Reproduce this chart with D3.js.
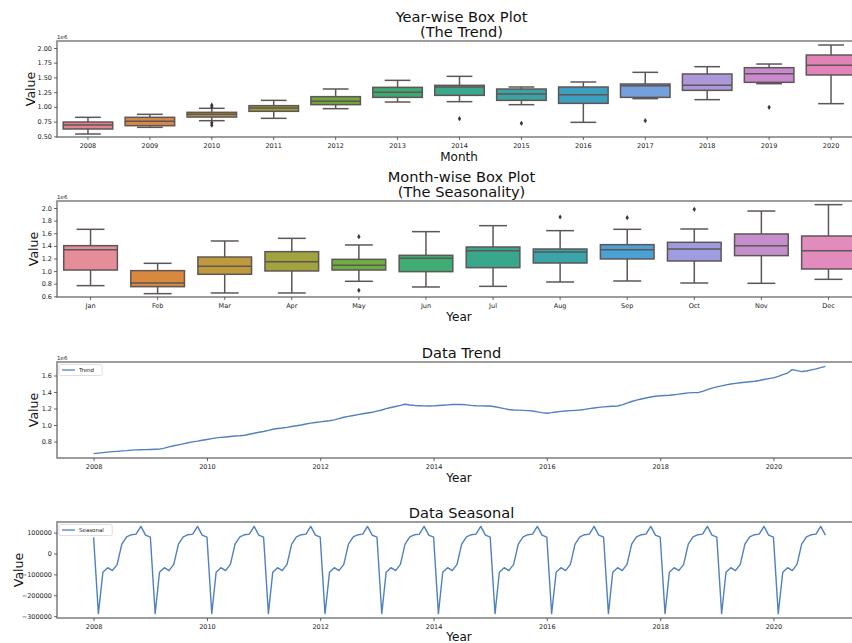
<!DOCTYPE html>
<html>
<head>
<meta charset="utf-8">
<script src="https://cdn.jsdelivr.net/npm/d3@7"></script>
<style>
  html, body { margin: 0; padding: 0; background: #fff; }
  svg { display: block; font-family: "DejaVu Sans", sans-serif; }
</style>
</head>
<body>
<svg id="chart" width="852" height="643"></svg>
<script>
// ---- Year-wise box statistics (values in millions) ----
const years = ["2008","2009","2010","2011","2012","2013","2014","2015","2016","2017","2018","2019","2020"];
const yearLow    = [0.540,0.653,0.766,0.806,0.970,1.083,1.089,1.038,0.738,1.140,1.123,1.394,1.055];
const yearQ1     = [0.625,0.681,0.828,0.925,1.038,1.162,1.196,1.111,1.060,1.162,1.281,1.417,1.542];
const yearMedian = [0.693,0.755,0.874,0.981,1.094,1.247,1.338,1.219,1.208,1.360,1.366,1.564,1.706];
const yearQ3     = [0.743,0.823,0.908,1.021,1.174,1.332,1.366,1.304,1.338,1.389,1.559,1.666,1.881];
const yearHigh   = [0.823,0.874,0.976,1.111,1.304,1.451,1.519,1.338,1.423,1.587,1.683,1.728,2.051];
const yearOutliers = [[],[],[1.03,1.00,0.73,0.69],[],[],[],[0.800],[0.721],[],[0.766],[],[0.993],[]];
const yearColors = ["#e3838f","#d6884a","#b3933d","#9c9d3c","#74a83e","#3eaa70","#3ba78c","#3ba4a3","#3d9fbd","#74a0dc","#ab97da","#ca89cc","#e283b8"];
const yearTicks = [0.50,0.75,1.00,1.25,1.50,1.75,2.00];

// ---- Month-wise box statistics (values in millions) ----
const months = ["Jan","Feb","Mar","Apr","May","Jun","Jul","Aug","Sep","Oct","Nov","Dec"];
const monthLow    = [0.769,0.642,0.653,0.653,0.838,0.748,0.758,0.827,0.843,0.811,0.806,0.869];
const monthQ1     = [1.017,0.753,0.949,1.002,1.017,0.991,1.054,1.128,1.192,1.160,1.245,1.033];
const monthMedian = [1.340,0.811,1.075,1.149,1.091,1.202,1.324,1.303,1.340,1.350,1.403,1.324];
const monthQ3     = [1.403,1.007,1.223,1.308,1.186,1.250,1.382,1.350,1.419,1.456,1.588,1.556];
const monthHigh   = [1.662,1.123,1.477,1.519,1.414,1.625,1.720,1.641,1.662,1.667,1.952,2.053];
const monthOutliers = [[],[],[],[],[1.546,0.695],[],[],[1.857],[1.847],[1.979],[],[]];
const monthColors = ["#e58d98","#d8893f","#bf9a3d","#a2a23f","#6eae40","#3eae74","#38a78c","#3aa5a8","#4aa2d4","#a09ce0","#c58ecc","#e18cbd"];
const monthTicks = [0.6,0.8,1.0,1.2,1.4,1.6,1.8,2.0];

// ---- Monthly trend component, Jan 2008 .. Dec 2020 (millions) ----
const trend = [
  0.653,0.659,0.665,0.671,0.677,0.681,0.686,0.690,0.696,0.699,0.700,0.702, // 2008
  0.704,0.706,0.708,0.720,0.735,0.748,0.760,0.772,0.785,0.796,0.805,0.815, // 2009
  0.825,0.835,0.844,0.850,0.855,0.860,0.866,0.870,0.876,0.888,0.900,0.912, // 2010
  0.922,0.935,0.948,0.958,0.963,0.972,0.982,0.991,1.000,1.012,1.023,1.030, // 2011
  1.038,1.045,1.051,1.062,1.078,1.094,1.104,1.115,1.126,1.136,1.146,1.154, // 2012
  1.168,1.182,1.198,1.212,1.225,1.238,1.252,1.242,1.236,1.234,1.232,1.230, // 2013
  1.232,1.236,1.240,1.244,1.248,1.250,1.248,1.244,1.238,1.234,1.232,1.230, // 2014
  1.230,1.222,1.210,1.198,1.188,1.182,1.180,1.178,1.175,1.170,1.160,1.150, // 2015
  1.143,1.150,1.158,1.165,1.170,1.174,1.178,1.182,1.190,1.198,1.206,1.214, // 2016
  1.220,1.225,1.228,1.230,1.245,1.265,1.285,1.301,1.315,1.328,1.340,1.348, // 2017
  1.354,1.358,1.361,1.366,1.374,1.382,1.390,1.393,1.393,1.408,1.428,1.448, // 2018
  1.462,1.475,1.487,1.497,1.505,1.512,1.518,1.524,1.530,1.540,1.552,1.563, // 2019
  1.572,1.590,1.610,1.630,1.672,1.660,1.648,1.655,1.668,1.680,1.695,1.711  // 2020
];
const trendTicks = [0.8,1.0,1.2,1.4,1.6];

// ---- Monthly seasonal component, Jan 2008 .. Dec 2020 ----
const seasonal = [
  78000,-288000,-90000,-68000,-82000,-52000,45000,80000,90000,93000,130000,88000, // 2008
  78000,-288000,-90000,-68000,-82000,-52000,45000,80000,90000,93000,130000,88000, // 2009
  78000,-288000,-90000,-68000,-82000,-52000,45000,80000,90000,93000,130000,88000, // 2010
  78000,-288000,-90000,-68000,-82000,-52000,45000,80000,90000,93000,130000,88000, // 2011
  78000,-288000,-90000,-68000,-82000,-52000,45000,80000,90000,93000,130000,88000, // 2012
  78000,-288000,-90000,-68000,-82000,-52000,45000,80000,90000,93000,130000,88000, // 2013
  78000,-288000,-90000,-68000,-82000,-52000,45000,80000,90000,93000,130000,88000, // 2014
  78000,-288000,-90000,-68000,-82000,-52000,45000,80000,90000,93000,130000,88000, // 2015
  78000,-288000,-90000,-68000,-82000,-52000,45000,80000,90000,93000,130000,88000, // 2016
  78000,-288000,-90000,-68000,-82000,-52000,45000,80000,90000,93000,130000,88000, // 2017
  78000,-288000,-90000,-68000,-82000,-52000,45000,80000,90000,93000,130000,88000, // 2018
  78000,-288000,-90000,-68000,-82000,-52000,45000,80000,90000,93000,130000,88000, // 2019
  78000,-288000,-90000,-68000,-82000,-52000,45000,80000,90000,93000,130000,88000  // 2020
];
const seasonalTicks = [-300000,-200000,-100000,0,100000];

// ---- Layout ----
const svg = d3.select("#chart");
const L = 57, R = 862;
const frameColor = "#858585";
const boxLine = "#5e5656";
const lineColor = "#4f80c0";
const tickFont = 6.5;

function frame(top, bottom) {
  svg.append("rect")
    .attr("x", L).attr("y", top)
    .attr("width", R - L).attr("height", bottom - top)
    .attr("fill", "none").attr("stroke", frameColor).attr("stroke-width", 1.6);
}

function styleAxis(g) {
  g.select(".domain").remove();
  g.selectAll(".tick line").attr("stroke", "#444").attr("stroke-width", 0.8);
  g.selectAll(".tick text").attr("fill", "#222").attr("font-size", tickFont)
    .attr("font-family", "DejaVu Sans, sans-serif");
}

function titleLines(lines, ys) {
  lines.forEach((t, i) => {
    svg.append("text").attr("x", (L + R) / 2 + 2).attr("y", ys[i])
      .attr("text-anchor", "middle").attr("font-size", 14.6).attr("fill", "#111").text(t);
  });
}

function xLabel(t, y) {
  svg.append("text").attr("x", 459).attr("y", y).attr("text-anchor", "middle")
    .attr("font-size", 12).attr("fill", "#111").text(t);
}

function yLabel(x, cy) {
  svg.append("text").attr("transform", `translate(${x},${cy}) rotate(-90)`)
    .attr("text-anchor", "middle").attr("font-size", 12.5).attr("fill", "#111").text("Value");
}

function offsetLabel(top) {
  svg.append("text").attr("x", L).attr("y", top - 2.5)
    .attr("font-size", 5.5).attr("fill", "#222").text("1e6");
}

function boxPanel(o) {
  const x = d3.scaleBand().domain(o.cats).range([L, R]).padding(0);
  const y = d3.scaleLinear().domain(o.domain).range([o.bottom, o.top]);
  const bw = x.bandwidth() * 0.8;
  const cw = bw * 0.52;
  const g = svg.append("g");
  o.cats.forEach((c, i) => {
    const cx = x(c) + x.bandwidth() / 2;
    // whiskers
    g.append("line").attr("x1", cx).attr("x2", cx).attr("y1", y(o.lo[i])).attr("y2", y(o.q1[i]))
      .attr("stroke", boxLine).attr("stroke-width", 1.5);
    g.append("line").attr("x1", cx).attr("x2", cx).attr("y1", y(o.hi[i])).attr("y2", y(o.q3[i]))
      .attr("stroke", boxLine).attr("stroke-width", 1.5);
    // caps
    [o.lo[i], o.hi[i]].forEach(v => {
      g.append("line").attr("x1", cx - cw / 2).attr("x2", cx + cw / 2).attr("y1", y(v)).attr("y2", y(v))
        .attr("stroke", boxLine).attr("stroke-width", 1.5);
    });
    // box
    g.append("rect").attr("x", cx - bw / 2).attr("y", y(o.q3[i]))
      .attr("width", bw).attr("height", y(o.q1[i]) - y(o.q3[i]))
      .attr("fill", o.colors[i]).attr("stroke", boxLine).attr("stroke-width", 1.5);
    // median
    g.append("line").attr("x1", cx - bw / 2).attr("x2", cx + bw / 2)
      .attr("y1", y(o.med[i])).attr("y2", y(o.med[i]))
      .attr("stroke", boxLine).attr("stroke-width", 1.5);
    // outliers (thin diamonds)
    o.out[i].forEach(v => {
      const py = y(v);
      g.append("path").attr("d", `M${cx},${py - 2.6}L${cx + 1.7},${py}L${cx},${py + 2.6}L${cx - 1.7},${py}Z`)
        .attr("fill", "#3a3a3a");
    });
  });
  frame(o.top, o.bottom);
  svg.append("g").attr("transform", `translate(${L},0)`)
    .call(d3.axisLeft(y).tickValues(o.ticks).tickFormat(o.fmt).tickSize(3).tickPadding(2))
    .call(styleAxis);
  svg.append("g").attr("transform", `translate(0,${o.bottom})`)
    .call(d3.axisBottom(x).tickSize(3).tickPadding(3))
    .call(styleAxis);
  offsetLabel(o.top);
}

function linePanel(o) {
  const t0 = new Date(2008, 0, 1), t1 = new Date(2020, 11, 1);
  const pad = (t1 - t0) * 0.05;
  const x = d3.scaleTime().domain([new Date(+t0 - pad), new Date(+t1 + pad)]).range([L, R]);
  const ext = d3.extent(o.values);
  const m = (ext[1] - ext[0]) * 0.05;
  const y = d3.scaleLinear().domain([ext[0] - m, ext[1] + m]).range([o.bottom, o.top]);
  const pts = o.values.map((v, i) => [new Date(2008, i, 1), v]);
  svg.append("path").datum(pts)
    .attr("d", d3.line().x(d => x(d[0])).y(d => y(d[1])))
    .attr("fill", "none").attr("stroke", lineColor).attr("stroke-width", 1.4)
    .attr("stroke-linejoin", "round");
  frame(o.top, o.bottom);
  svg.append("g").attr("transform", `translate(${L},0)`)
    .call(d3.axisLeft(y).tickValues(o.ticks).tickFormat(o.fmt).tickSize(3).tickPadding(2))
    .call(styleAxis);
  svg.append("g").attr("transform", `translate(0,${o.bottom})`)
    .call(d3.axisBottom(x).ticks(d3.timeYear.every(2)).tickFormat(d3.timeFormat("%Y")).tickSize(3).tickPadding(3))
    .call(styleAxis);
  // legend
  const lg = svg.append("g");
  const lw = o.name.length * 3.4 + 26;
  lg.append("rect").attr("x", L + 2).attr("y", o.top + 2.5).attr("width", lw).attr("height", 11)
    .attr("rx", 1.5).attr("fill", "#fff").attr("stroke", "#d6d6d6").attr("stroke-width", 0.8);
  lg.append("line").attr("x1", L + 5).attr("x2", L + 18).attr("y1", o.top + 8).attr("y2", o.top + 8)
    .attr("stroke", lineColor).attr("stroke-width", 1.3);
  lg.append("text").attr("x", L + 22).attr("y", o.top + 10).attr("font-size", 5.5).attr("fill", "#222").text(o.name);
}

// Panel 1: year-wise boxes
boxPanel({
  top: 41, bottom: 137, cats: years, lo: yearLow, q1: yearQ1, med: yearMedian, q3: yearQ3, hi: yearHigh,
  out: yearOutliers, colors: yearColors, domain: [0.489, 2.119], ticks: yearTicks, fmt: d3.format(".2f")
});
titleLines(["Year-wise Box Plot", "(The Trend)"], [21.5, 37]);
xLabel("Month", 161);
yLabel(35, 89);

// Panel 2: month-wise boxes
boxPanel({
  top: 201, bottom: 297, cats: months, lo: monthLow, q1: monthQ1, med: monthMedian, q3: monthQ3, hi: monthHigh,
  out: monthOutliers, colors: monthColors, domain: [0.589, 2.111], ticks: monthTicks, fmt: d3.format(".1f")
});
titleLines(["Month-wise Box Plot", "(The Seasonality)"], [181.5, 197]);
xLabel("Year", 321);
yLabel(38, 249);

// Panel 3: trend line
linePanel({ top: 362, bottom: 458, values: trend, ticks: trendTicks, fmt: d3.format(".1f"), name: "Trend" });
offsetLabel(362);
titleLines(["Data Trend"], [358]);
xLabel("Year", 481.5);
yLabel(38, 410);

// Panel 4: seasonal line
linePanel({ top: 522, bottom: 618, values: seasonal, ticks: seasonalTicks, fmt: d3.format("d"), name: "Seasonal" });
titleLines(["Data Seasonal"], [518]);
xLabel("Year", 641);
yLabel(23, 570);
</script>
</body>
</html>
